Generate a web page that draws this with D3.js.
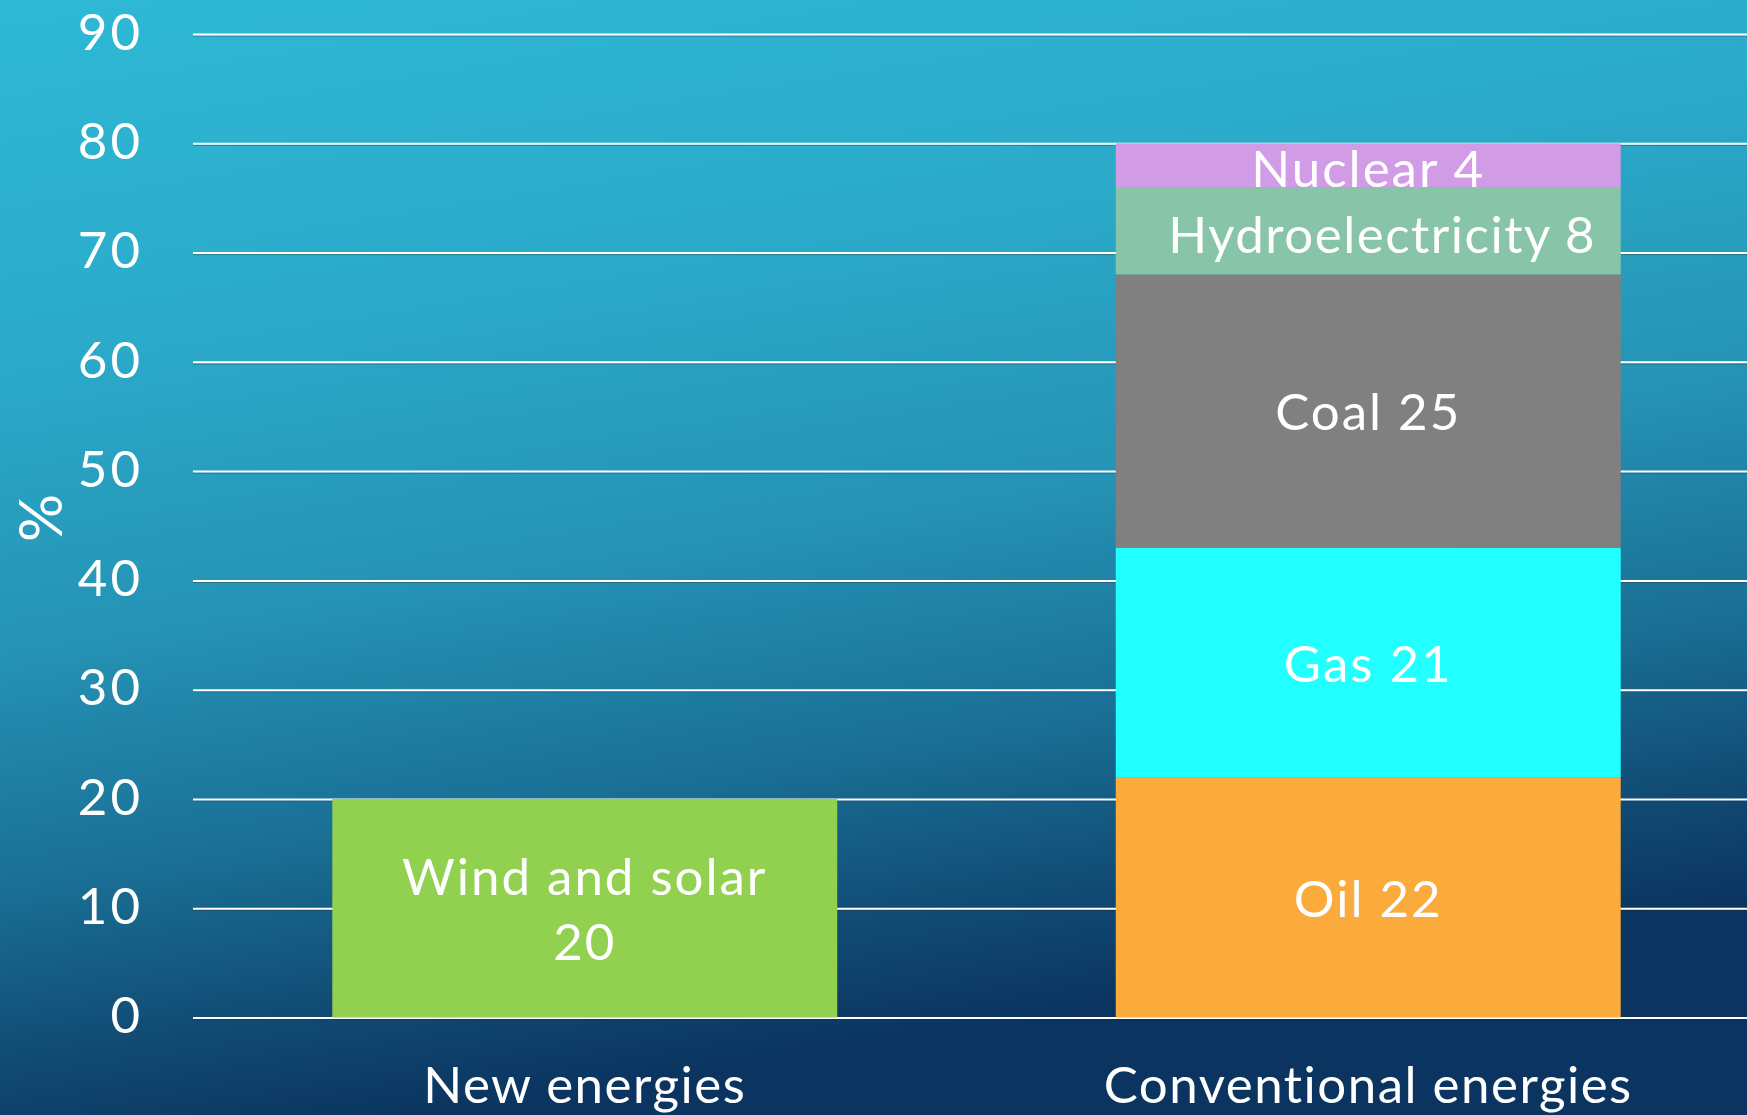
<!DOCTYPE html>
<html>
<head>
<meta charset="utf-8">
<script src="https://cdn.jsdelivr.net/npm/d3@7"></script>
<style>
  html, body { margin: 0; padding: 0; overflow: hidden; }
  svg { display: block; }
  text { font-family: Lato, "Noto Sans", sans-serif; fill: #fff; }
</style>
</head>
<body>
<div id="chart"></div>
<script>
//============= DATA =============//
const groups = ["New energies", "Conventional energies"];
const sources = ["Wind and solar", "Oil", "Gas", "Coal", "Hydroelectricity", "Nuclear"];
const newValues = [20, 0, 0, 0, 0, 0];
const conventionalValues = [0, 22, 21, 25, 8, 4];
const yTicks = [0, 10, 20, 30, 40, 50, 60, 70, 80, 90];
const yLabel = "%";
const colors = ["#92D050", "#FBAA3C", "#22FFFF", "#808080", "#88C4A8", "#D29BE6"];

//============= SETUP =============//
const W = 1747, H = 1115;
const margin = {top: 34, right: -13, bottom: 97, left: 193};

const svg = d3.select("#chart").append("svg")
  .attr("width", W)
  .attr("height", H);

// background gradient
const defs = svg.append("defs");
const grad = defs.append("linearGradient")
  .attr("id", "bg")
  .attr("x1", "0").attr("y1", "0")
  .attr("x2", "0.25").attr("y2", "1");
[["0%", "#2EB9D5"], ["30%", "#2BAACA"], ["55%", "#2593B5"], ["75%", "#1A6F95"], ["90%", "#104A73"], ["100%", "#0B3460"]]
  .forEach(s => grad.append("stop").attr("offset", s[0]).attr("stop-color", s[1]));
svg.append("rect").attr("width", W).attr("height", H).attr("fill", "url(#bg)");

const x = d3.scaleBand()
  .domain(groups)
  .range([margin.left, W - margin.right])
  .paddingInner(0.3555)
  .paddingOuter(0.1778);

const y = d3.scaleLinear()
  .domain([0, 90])
  .range([H - margin.bottom - 0.5, margin.top]);

// gridlines
const yAxis = d3.axisLeft(y)
  .tickValues(yTicks)
  .tickSize(-(W - margin.left))
  .tickFormat(d => d)
  .tickPadding(50);

const gy = svg.append("g")
  .attr("class", "y axis")
  .attr("transform", "translate(" + margin.left + ",0)")
  .call(yAxis);
gy.select(".domain").remove();
gy.selectAll(".tick line")
  .attr("stroke", "#fff")
  .attr("stroke-width", 2);
gy.selectAll(".tick")
  .insert("line", ":first-child")
  .attr("x2", W - margin.left)
  .attr("y1", 1.6).attr("y2", 1.6)
  .attr("stroke", "rgba(40,40,40,0.35)")
  .attr("stroke-width", 1);
gy.selectAll(".tick text")
  .attr("fill", "#fff")
  .style("font-size", "51px")
  .style("letter-spacing", "3px")
  .attr("dy", "0.3em");

// y label
svg.append("text")
  .attr("transform", "translate(41,518) rotate(-90)")
  .attr("text-anchor", "middle")
  .attr("dy", "0.35em")
  .style("font-size", "60px")
  .text(yLabel);

// stacked bars
const rows = groups.map((g, i) => {
  const vals = i === 0 ? newValues : conventionalValues;
  const row = {group: g};
  sources.forEach((s, j) => row[s] = vals[j]);
  return row;
});
const stacked = d3.stack().keys(sources)(rows);

const layer = svg.selectAll(".layer")
  .data(stacked)
  .enter().append("g")
  .attr("class", "layer")
  .attr("fill", (d, i) => colors[i]);

layer.selectAll("rect")
  .data(d => d.filter(p => p[1] - p[0] > 0))
  .enter().append("rect")
  .attr("x", d => x(d.data.group))
  .attr("width", x.bandwidth())
  .attr("y", d => y(d[1]))
  .attr("height", d => y(d[0]) - y(d[1]));

// segment labels
const labels = [];
stacked.forEach(s => s.forEach(p => {
  const v = p[1] - p[0];
  if (v > 0) labels.push({key: s.key, value: v, group: p.data.group, mid: (p[0] + p[1]) / 2});
}));

labels.forEach(l => {
  const cx = x(l.group) + x.bandwidth() / 2;
  const t = svg.append("text")
    .attr("text-anchor", "middle")
    .style("font-size", "51px")
    .style("letter-spacing", "2px")
    .attr("x", cx);
  if (l.key === "Wind and solar") {
    t.attr("y", y(l.mid));
    t.append("tspan").attr("x", cx).attr("dy", "-0.26em").text(l.key);
    t.append("tspan").attr("x", cx).attr("dy", "1.27em").text(l.value);
  } else if (l.key === "Hydroelectricity") {
    t.style("letter-spacing", "1.5px")
      .attr("x", cx + 14).attr("y", y(l.mid)).attr("dy", "0.44em").text(l.key + " " + l.value);
  } else if (l.key === "Nuclear") {
    t.attr("y", y(l.mid)).attr("dy", "0.42em").text(l.key + " " + l.value);
  } else {
    t.attr("y", y(l.mid)).attr("dy", "0.38em").text(l.key + " " + l.value);
  }
});

// category labels
svg.selectAll(".cat")
  .data(groups)
  .enter().append("text")
  .attr("class", "cat")
  .attr("text-anchor", "middle")
  .style("font-size", "51px")
  .style("letter-spacing", "1.5px")
  .attr("x", d => x(d) + x.bandwidth() / 2)
  .attr("y", 1103)
  .text(d => d);
</script>
</body>
</html>
